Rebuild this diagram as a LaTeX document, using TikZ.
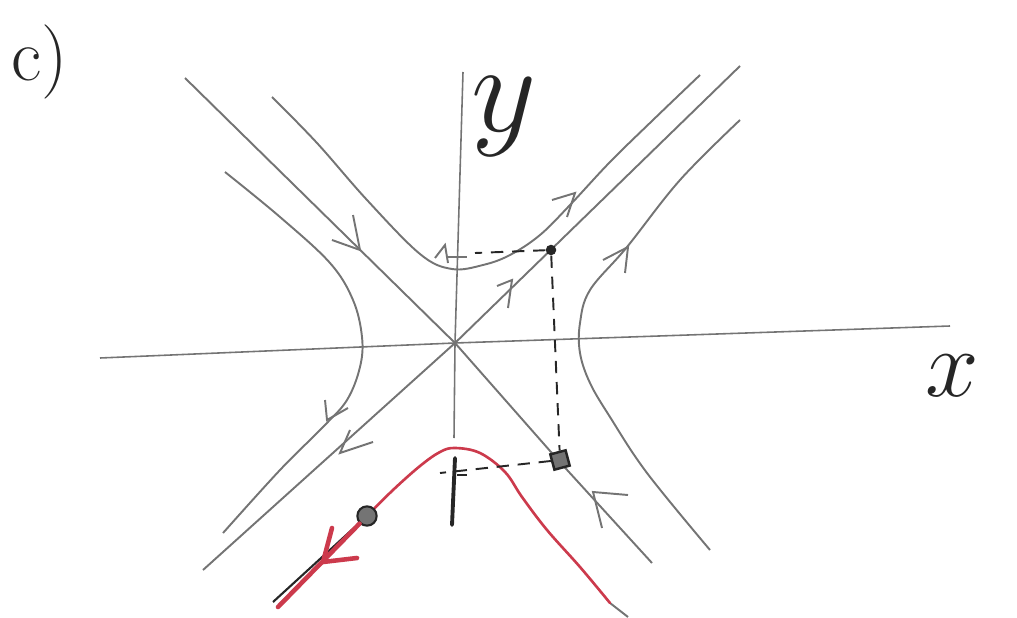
\documentclass[tikz,border=0pt]{standalone}
\usepackage{amsmath}
\usepackage{xcolor}
\definecolor{pencil}{HTML}{747474}
\definecolor{redpen}{HTML}{CC3A4C}
\definecolor{darkpen}{HTML}{262626}

\begin{document}
\begin{tikzpicture}[
  x=0.02cm,
  y=-0.02cm,
  every node/.style={darkpen},
  axis/.style={pencil, line width=0.9pt},
  orbit/.style={pencil, line width=1.1pt},
  chevron/.style={pencil, line width=1.1pt, line join=miter},
  guide/.style={darkpen, line width=1.1pt, dash pattern=on 7pt off 5pt},
  redorbit/.style={redpen, line width=1.5pt, line cap=round},
  redarrow/.style={redpen, line width=2.6pt, line cap=round}
]
  \useasboundingbox (0,0) rectangle (1017,618);

  %% ---- 座標軸 ------------------------------------------------------------
  \coordinate (O) at (455,343);
  \draw[axis] (100,358) -- (O) -- (950,326);
  \draw[axis] (463,72) -- (O) -- (454,438);
  \draw[darkpen, line width=2.2pt, line cap=round] (455,458) -- (452,525);

  \node[font=\Huge, scale=2.9] (ylab) at (504,117) {$y$};
  \node[font=\Huge, scale=2.2] (xlab) at (952,376) {$x$};
  \node[font=\Huge, scale=1.7] (part) at (40,62)   {c)};

  %% ---- 兩條特徵直線 ------------------------------------------------------
  %% 穩定方向 (左上 -> 原點 <- 右下)
  \draw[orbit] (185,78) -- (O) -- (558,460) -- (652,563);
  %% 不穩定方向 (原點 -> 右上, 原點 -> 左下)
  \draw[orbit] (740,66) -- (O) -- (203,570);

  %% ---- 四條雙曲線軌道 ----------------------------------------------------
  \draw[orbit] plot[smooth, tension=0.6] coordinates {
    (272,97) (317,143) (367,200) (420,254) (452,269) (483,265)
    (510,255) (540,235) (570,205) (610,162) (653,120) (700,75)};
  \draw[orbit] plot[smooth, tension=0.6] coordinates {
    (225,172) (280,217) (330,263) (353,300) (362,337) (360,367)
    (347,400) (323,427) (280,470) (223,533)};
  \draw[orbit] plot[smooth, tension=0.6] coordinates {
    (740,120) (680,180) (627,247) (590,290) (580,323) (580,353)
    (590,383) (610,417) (647,473) (710,550)};
  \draw[orbit] (610,603) -- (628,617);
  \draw[redorbit] plot[smooth, tension=0.6] coordinates {
    (368,515) (393,490) (420,466) (440,452) (455,448) (480,453)
    (505,472) (522,497) (547,530) (580,567) (610,603)};

  %% ---- 方向箭頭 ----------------------------------------------------------
  \draw[chevron] (353,215) -- (360,250) -- (332,240);
  \draw[chevron] (325,400) -- (327,420) -- (348,408);
  \draw[chevron] (350,430) -- (340,453) -- (373,442);
  \draw[chevron] (552,200) -- (575,193) -- (567,217);
  \draw[chevron] (497,286) -- (512,280) -- (508,308);
  \draw[chevron] (603,260) -- (628,247) -- (625,273);
  \draw[chevron] (628,495) -- (593,492) -- (602,528);
  \draw[chevron] (435,258) -- (445,245) -- (448,263);
  \draw[chevron] (447,257) -- (467,257);

  %% ---- 兩個標記點與投影虛線 ----------------------------------------------
  \node[circle, fill=darkpen, inner sep=0pt, minimum size=6pt] (P) at (551,250) {};
  \node[rectangle, draw=darkpen, fill=pencil, line width=1.4pt,
        inner sep=0pt, minimum size=9pt, rotate=15] (Q) at (560,460) {};
  \node[circle, draw=darkpen, fill=pencil, line width=1.2pt,
        inner sep=0pt, minimum size=11pt] (R) at (367,516) {};

  \draw[guide] (P) -- (475,253);
  \draw[guide] (P) -- (Q);
  \draw[guide] (Q) -- (440,473);
  \draw[darkpen, line width=1pt] (457,475) -- (467,475);

  %% ---- 紅色出發段 --------------------------------------------------------
  \draw[darkpen, line width=1.2pt] (R) -- (273,602);
  \draw[redarrow] (R) -- (278,607);
  \draw[redarrow] (332,528) -- (323,562) -- (357,558);
\end{tikzpicture}
\end{document}
